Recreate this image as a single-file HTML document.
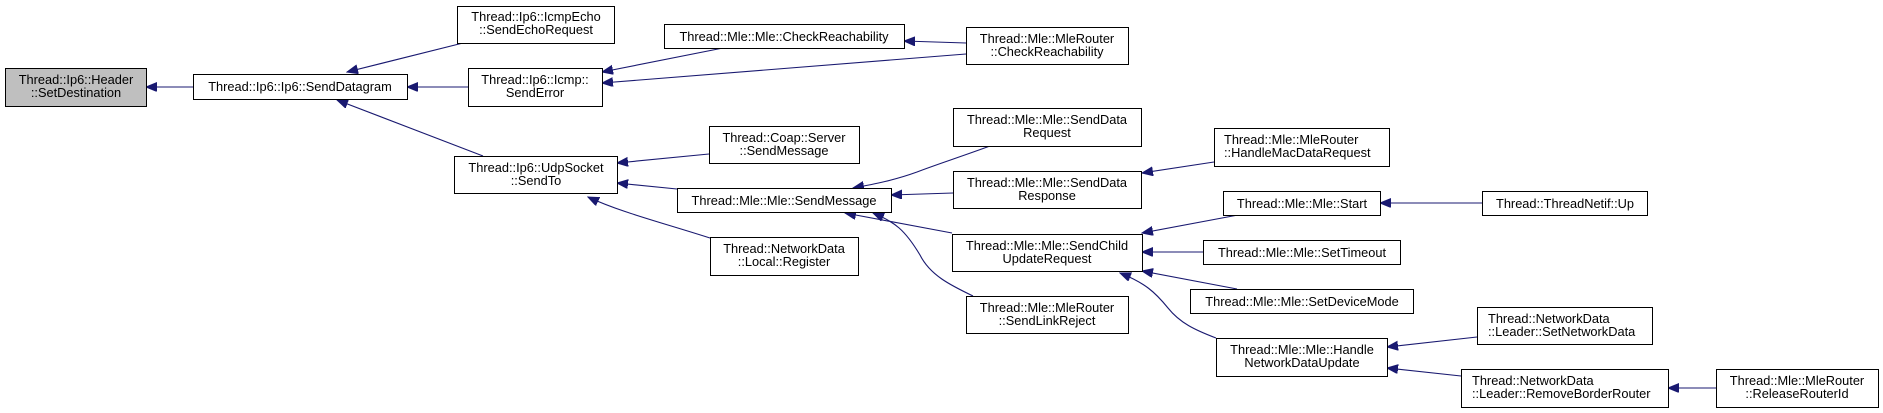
<!DOCTYPE html>
<html><head><meta charset="utf-8"><style>
html,body{margin:0;padding:0;background:#fff;}
svg{display:block;}
text{font-family:"Liberation Sans",Arial,sans-serif;font-size:12.8px;fill:#000;}
rect{fill:#fff;stroke:#000;stroke-width:1;}
.e{fill:none;stroke:#191970;stroke-width:1.1;marker-end:url(#a);}
</style></head><body>
<svg width="1883" height="413" viewBox="0 0 1883 413" xmlns="http://www.w3.org/2000/svg">
<defs><marker id="a" markerUnits="userSpaceOnUse" markerWidth="12" markerHeight="10" refX="11" refY="4.5" orient="auto"><path d="M0,0 L11,4.5 L0,9 z" fill="#191970" stroke="#191970"/></marker></defs>

<!-- edges -->
<path class="e" d="M193,87 L146,87"/>
<path class="e" d="M463,43 L347,72"/>
<path class="e" d="M468,87 L407,87"/>
<path class="e" d="M483,156 L337,100"/>
<path class="e" d="M723,48 L602,72"/>
<path class="e" d="M966,54 L602,83"/>
<path class="e" d="M966,43 L904,41"/>
<path class="e" d="M709,154 L617,163"/>
<path class="e" d="M677,189 L617,183"/>
<path class="e" d="M710,238 C660,222 620,212 588,197"/>
<path class="e" d="M990,146 C960,157 935,165 917,172 C895,180 875,184 853,188"/>
<path class="e" d="M953,193 L891,195"/>
<path class="e" d="M952,233 L845,213"/>
<path class="e" d="M973,296 C950,285 930,275 920,255 C905,230 895,222 873,213"/>
<path class="e" d="M1214,162 L1142,173"/>
<path class="e" d="M1238,215 L1142,233"/>
<path class="e" d="M1203,252 L1142,252"/>
<path class="e" d="M1237,289 L1142,271"/>
<path class="e" d="M1216,338 C1195,330 1180,323 1168,308 C1155,292 1145,283 1120,273"/>
<path class="e" d="M1482,203 L1380,203"/>
<path class="e" d="M1477,337 L1387,347"/>
<path class="e" d="M1461,376 L1387,368"/>
<path class="e" d="M1716,388 L1668,388"/>

<!-- nodes -->
<rect x="5.5" y="68.5" width="141" height="38" style="fill:#bfbfbf"/>
<text x="76" y="84" text-anchor="middle">Thread::Ip6::Header</text>
<text x="76" y="97" text-anchor="middle">::SetDestination</text>

<rect x="193.5" y="74.5" width="214" height="25"/>
<text x="300" y="91" text-anchor="middle">Thread::Ip6::Ip6::SendDatagram</text>

<rect x="457.5" y="6.5" width="157" height="37"/>
<text x="536" y="21" text-anchor="middle">Thread::Ip6::IcmpEcho</text>
<text x="536" y="34" text-anchor="middle">::SendEchoRequest</text>

<rect x="468.5" y="68.5" width="134" height="38"/>
<text x="535" y="84" text-anchor="middle">Thread::Ip6::Icmp::</text>
<text x="535" y="97" text-anchor="middle">SendError</text>

<rect x="454.5" y="156.5" width="163" height="37"/>
<text x="536" y="172" text-anchor="middle">Thread::Ip6::UdpSocket</text>
<text x="536" y="185" text-anchor="middle">::SendTo</text>

<rect x="664.5" y="24.5" width="240" height="24"/>
<text x="784" y="41" text-anchor="middle">Thread::Mle::Mle::CheckReachability</text>

<rect x="966.5" y="27.5" width="162" height="37"/>
<text x="1047" y="43" text-anchor="middle">Thread::Mle::MleRouter</text>
<text x="1047" y="56" text-anchor="middle">::CheckReachability</text>

<rect x="709.5" y="126.5" width="150" height="37"/>
<text x="784" y="142" text-anchor="middle">Thread::Coap::Server</text>
<text x="784" y="155" text-anchor="middle">::SendMessage</text>

<rect x="677.5" y="188.5" width="214" height="24"/>
<text x="784" y="205" text-anchor="middle">Thread::Mle::Mle::SendMessage</text>

<rect x="710.5" y="237.5" width="148" height="38"/>
<text x="784" y="253" text-anchor="middle">Thread::NetworkData</text>
<text x="784" y="266" text-anchor="middle">::Local::Register</text>

<rect x="953.5" y="108.5" width="188" height="38"/>
<text x="1047" y="124" text-anchor="middle">Thread::Mle::Mle::SendData</text>
<text x="1047" y="137" text-anchor="middle">Request</text>

<rect x="953.5" y="171.5" width="188" height="37"/>
<text x="1047" y="187" text-anchor="middle">Thread::Mle::Mle::SendData</text>
<text x="1047" y="200" text-anchor="middle">Response</text>

<rect x="952.5" y="234.5" width="190" height="37"/>
<text x="1047" y="250" text-anchor="middle">Thread::Mle::Mle::SendChild</text>
<text x="1047" y="263" text-anchor="middle">UpdateRequest</text>

<rect x="966.5" y="296.5" width="162" height="37"/>
<text x="1047" y="312" text-anchor="middle">Thread::Mle::MleRouter</text>
<text x="1047" y="325" text-anchor="middle">::SendLinkReject</text>

<rect x="1214.5" y="128.5" width="175" height="38"/>
<text x="1224" y="144">Thread::Mle::MleRouter</text>
<text x="1224" y="157">::HandleMacDataRequest</text>

<rect x="1223.5" y="191.5" width="157" height="24"/>
<text x="1302" y="208" text-anchor="middle">Thread::Mle::Mle::Start</text>

<rect x="1203.5" y="240.5" width="197" height="24"/>
<text x="1302" y="257" text-anchor="middle">Thread::Mle::Mle::SetTimeout</text>

<rect x="1190.5" y="289.5" width="223" height="24"/>
<text x="1302" y="306" text-anchor="middle">Thread::Mle::Mle::SetDeviceMode</text>

<rect x="1216.5" y="338.5" width="171" height="38"/>
<text x="1302" y="354" text-anchor="middle">Thread::Mle::Mle::Handle</text>
<text x="1302" y="367" text-anchor="middle">NetworkDataUpdate</text>

<rect x="1482.5" y="191.5" width="165" height="24"/>
<text x="1565" y="208" text-anchor="middle">Thread::ThreadNetif::Up</text>

<rect x="1477.5" y="307.5" width="175" height="37"/>
<text x="1488" y="323">Thread::NetworkData</text>
<text x="1488" y="336">::Leader::SetNetworkData</text>

<rect x="1461.5" y="369.5" width="207" height="38"/>
<text x="1472" y="385">Thread::NetworkData</text>
<text x="1472" y="398">::Leader::RemoveBorderRouter</text>

<rect x="1716.5" y="369.5" width="162" height="38"/>
<text x="1797" y="385" text-anchor="middle">Thread::Mle::MleRouter</text>
<text x="1797" y="398" text-anchor="middle">::ReleaseRouterId</text>
</svg>
</body></html>
